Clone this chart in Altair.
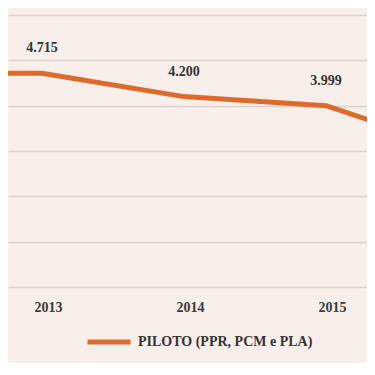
import altair as alt
import pandas as pd

# Data (values in units; labels use "." as thousands separator)
years = [2012, 2013, 2014, 2015, 2016]
values = [4720, 4715, 4200, 3999, 2950]
series_name = "PILOTO (PPR, PCM e PLA)"
tick_years = [2013, 2014, 2015]
grid_values = [0, 1000, 2000, 3000, 4000, 5000, 6000]

df = pd.DataFrame({"ano": years, "valor": values, "serie": [series_name] * len(years)})

FONT = "Liberation Serif"
BG = "#F8EEEA"
LINE = "#DE6B2C"

x = alt.X(
    "ano:Q",
    scale=alt.Scale(domain=[2012.761, 2015.289], nice=False, zero=False),
    axis=alt.Axis(
        values=tick_years, format="d", title=None, grid=False, ticks=False,
        domain=False, orient="bottom", offset=-65, labelPadding=2,
        labelFont=FONT, labelFontSize=14, labelFontWeight="bold",
        labelColor="#3a3a3a", labelOffset=6,
    ),
)
y = alt.Y(
    "valor:Q",
    scale=alt.Scale(domain=[-1677, 6155], nice=False, zero=False),
    axis=alt.Axis(
        values=grid_values, labels=False, ticks=False, domain=False, title=None,
        grid=True, gridColor="#DAD1CD", gridWidth=1.5,
    ),
)

base = alt.Chart(df).encode(x=x, y=y)

line = base.mark_line(clip=True, strokeWidth=5, strokeCap="round", strokeJoin="round").encode(
    color=alt.Color(
        "serie:N",
        scale=alt.Scale(range=[LINE]),
        legend=alt.Legend(
            orient="none", legendX=77, legendY=310, title=None,
            symbolType="stroke", symbolSize=1849, symbolStrokeWidth=5,
            labelFont=FONT, labelFontSize=14, labelFontWeight="bold",
            labelColor="#333333", labelOffset=5, padding=0, labelLimit=0,
        ),
    )
)

labels = base.transform_filter(
    alt.FieldOneOfPredicate(field="ano", oneOf=tick_years)
).transform_calculate(
    rotulo="replace(format(datum.valor, ','), ',', '.')"
).mark_text(
    clip=True, dy=-25, font=FONT, fontSize=14, fontWeight="bold", color="#333333",
    baseline="middle", align="center",
).encode(text="rotulo:N")

chart = alt.layer(line, labels).properties(
    width=359, height=355, padding=0,
    autosize=alt.AutoSizeParams(type="none"),
    background=BG,
).configure_view(stroke=None)

chart.save("out.html", embed_options={"renderer": "svg", "actions": False})
